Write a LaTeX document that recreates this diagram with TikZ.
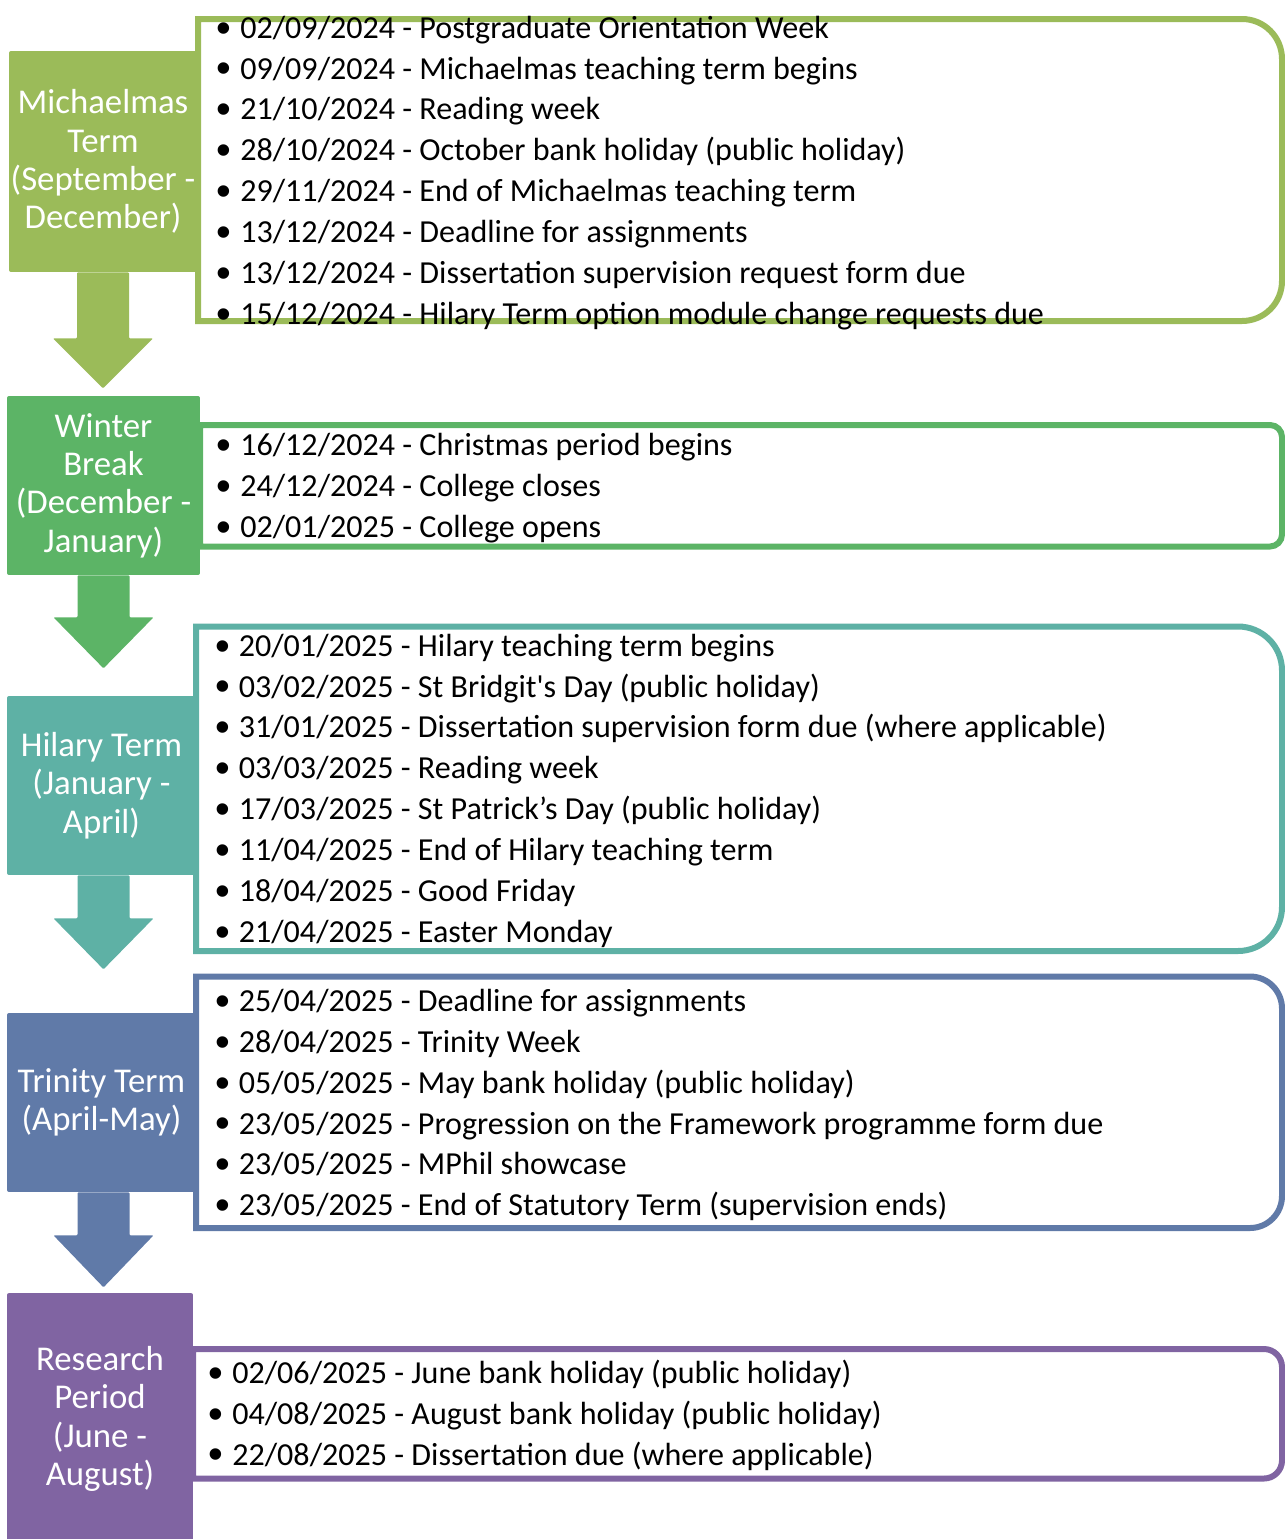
\documentclass[tikz,border=0pt]{standalone}
\usepackage{fontspec}
\setmainfont{Carlito}
\newfontfamily\bulletfont{Liberation Sans}
\usetikzlibrary{positioning}
\tikzset{
	termbox/.style={
		rectangle, rounded corners=0.04cm, inner sep=0pt, align=center,
		text=white, font=\fontsize{19.8}{21.8}\selectfont
	},
	%
	datelist/.style={
		rectangle, inner sep=0pt, align=left, anchor=west,
		text=black, font=\fontsize{18.25}{23.25}\selectfont
	},
	%
	listframe/.style={
		line width=0.12cm
	}
}
\definecolor{c1}{RGB}{155, 187, 89}
\definecolor{c2}{RGB}{92, 180, 102}
\definecolor{c3}{RGB}{94, 177, 165}
\definecolor{c4}{RGB}{96, 122, 168}
\definecolor{c5}{RGB}{128, 100, 162}
\newcommand{\itm}{\strut\makebox[0.47cm][l]{\raisebox{-2.2pt}{\fontsize{24}{24}\bulletfont •}}}

\begin{document}
\begin{tikzpicture}[x=0.02cm, y=-0.02cm]
\useasboundingbox (0,0) rectangle (1285,1539);
% frames behind the term boxes
\draw[listframe, draw=c1] (198,19) [rounded corners=0.8cm]-- (1282,19) -- (1282,321) [sharp corners]-- (198,321) -- cycle;
\draw[listframe, draw=c2] (200,425) [rounded corners=0.24cm]-- (1282,425) -- (1282,546.5) [sharp corners]-- (200,546.5) -- cycle;
\draw[listframe, draw=c3] (196,626.5) [rounded corners=0.88cm]-- (1282,626.5) -- (1282,951) [sharp corners]-- (196,951) -- cycle;
\draw[listframe, draw=c4] (196,976.5) [rounded corners=0.64cm]-- (1282,976.5) -- (1282,1228) [sharp corners]-- (196,1228) -- cycle;
\draw[listframe, draw=c5] (193,1349) [rounded corners=0.36cm]-- (1282,1349) -- (1282,1478.5) [sharp corners]-- (193,1478.5) -- cycle;

% term boxes
\node(michaelmas)[termbox, fill=c1, minimum width=3.76cm, minimum height=4.42cm] at (103,161.5) {Michaelmas\\Term\\(September -\\December)};
\node(winter)[termbox, fill=c2, minimum width=3.86cm, minimum height=3.58cm] at (103.5,485.5) {Winter\\Break\\(December -\\January)};
\node(hilary)[termbox, fill=c3, minimum width=3.78cm, minimum height=3.58cm] at (101.5,785.5) {Hilary Term\\(January -\\April)};
\node(trinity)[termbox, fill=c4, minimum width=3.78cm, minimum height=3.58cm] at (101.5,1102.5) {Trinity Term\\(April-May)};
\node(research)[termbox, fill=c5, minimum width=3.72cm, minimum height=5.04cm] at (100,1419) {Research\\Period\\(June -\\August)};

% arrows between the terms
\fill[c1, rounded corners=0.02cm] (michaelmas.south) ++(-26,0) -- ++(52,0) -- ++(0,66) -- ++(24,0) -- ++(-50,50) -- ++(-50,-50) -- ++(24,0) -- cycle;
\fill[c2, rounded corners=0.02cm] (winter.south) ++(-26,0) -- ++(52,0) -- ++(0,42) -- ++(24,0) -- ++(-50,51) -- ++(-50,-51) -- ++(24,0) -- cycle;
\fill[c3, rounded corners=0.02cm] (hilary.south) ++(-24,0) -- ++(52,0) -- ++(0,43) -- ++(24,0) -- ++(-50,51) -- ++(-50,-51) -- ++(24,0) -- cycle;
\fill[c4, rounded corners=0.02cm] (trinity.south) ++(-24,0) -- ++(52,0) -- ++(0,43) -- ++(24,0) -- ++(-50,52) -- ++(-50,-52) -- ++(24,0) -- cycle;

% dates
\node(michaelmasdates)[datelist] at (216.5,173) {
    \itm 02/09/2024 - Postgraduate Orientation Week\\
    \itm 09/09/2024 - Michaelmas teaching term begins\\
    \itm 21/10/2024 - Reading week\\
    \itm 28/10/2024 - October bank holiday (public holiday)\\
    \itm 29/11/2024 - End of Michaelmas teaching term\\
    \itm 13/12/2024 - Deadline for assignments\\
    \itm 13/12/2024 - Dissertation supervision request form due\\
    \itm 15/12/2024 - Hilary Term option module change requests due
};
\node(winterdates)[datelist] at (216.5,488.5) {
    \itm 16/12/2024 - Christmas period begins\\
    \itm 24/12/2024 - College closes\\
    \itm 02/01/2025 - College opens
};
\node(hilarydates)[datelist] at (215,791) {
    \itm 20/01/2025 - Hilary teaching term begins\\
    \itm 03/02/2025 - St Bridgit\textquotesingle s Day (public holiday)\\
    \itm 31/01/2025 - Dissertation supervision form due (where applicable)\\
    \itm 03/03/2025 - Reading week\\
    \itm 17/03/2025 - St Patrick’s Day (public holiday)\\
    \itm 11/04/2025 - End of Hilary teaching term\\
    \itm 18/04/2025 - Good Friday\\
    \itm 21/04/2025 - Easter Monday
};
\node(trinitydates)[datelist] at (215,1105.5) {
    \itm 25/04/2025 - Deadline for assignments\\
    \itm 28/04/2025 - Trinity Week\\
    \itm 05/05/2025 - May bank holiday (public holiday)\\
    \itm 23/05/2025 - Progression on the Framework programme form due\\
    \itm 23/05/2025 - MPhil showcase\\
    \itm 23/05/2025 - End of Statutory Term (supervision ends)
};
\node(researchdates)[datelist] at (208.5,1416) {
    \itm 02/06/2025 - June bank holiday (public holiday)\\
    \itm 04/08/2025 - August bank holiday (public holiday)\\
    \itm 22/08/2025 - Dissertation due (where applicable)
};
\end{tikzpicture}
\end{document}
